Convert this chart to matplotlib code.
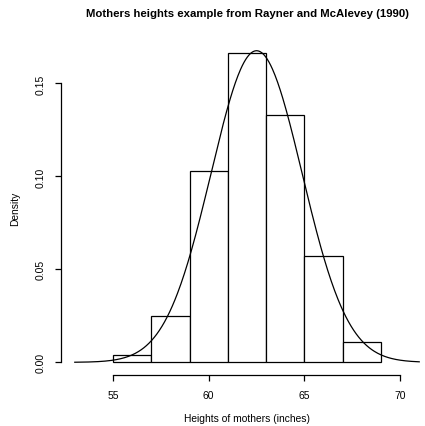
import matplotlib
matplotlib.use('Agg')
import numpy as np
import matplotlib.pyplot as plt

plt.rcParams['font.family'] = ['Liberation Sans', 'DejaVu Sans']

# histogram of mothers' heights (density scale)
bin_edges = [55, 57, 59, 61, 63, 65, 67, 69]
densities = [0.0039, 0.0251, 0.1031, 0.1662, 0.1329, 0.0571, 0.0109]

# fitted normal curve
curve_mean = 62.5
curve_sd = 2.38
curve_from, curve_to = 53, 71

x_ticks = [55, 60, 65, 70]
y_ticks = [0.00, 0.05, 0.10, 0.15]
y_tick_labels = ['0.00', '0.05', '0.10', '0.15']

fig = plt.figure(figsize=(4.25, 4.27), dpi=100)
ax = fig.add_axes([61 / 425, 51.3 / 427, 372 / 425, 333.7 / 427])

lefts = np.array(bin_edges[:-1])
widths = np.diff(bin_edges)
ax.bar(lefts, densities, width=widths, align='edge', facecolor='white',
       edgecolor='black', linewidth=0.9)

xs = np.linspace(curve_from, curve_to, 400)
ys = np.exp(-0.5 * ((xs - curve_mean) / curve_sd) ** 2) / (curve_sd * np.sqrt(2 * np.pi))
ax.plot(xs, ys, color='black', linewidth=0.9)

pad_x = 0.04 * (curve_to - curve_from)
ax.set_xlim(curve_from - pad_x, curve_to + pad_x)
ymax = max(densities)
ax.set_ylim(-0.04 * ymax, 1.04 * ymax)

for s in ['top', 'right']:
    ax.spines[s].set_visible(False)
ax.spines['bottom'].set_bounds(x_ticks[0], x_ticks[-1])
ax.spines['left'].set_bounds(y_ticks[0], y_ticks[-1])
for s in ['bottom', 'left']:
    ax.spines[s].set_linewidth(0.9)

ax.set_xticks(x_ticks)
ax.set_yticks(y_ticks)
ax.set_yticklabels(y_tick_labels, rotation=90, va='center')
ax.tick_params(length=4.5, width=0.9, labelsize=7.5, pad=6.5)

ax.set_xlabel('Heights of mothers (inches)', fontsize=7.4, labelpad=9.5)
ax.set_ylabel('Density', fontsize=7.4, labelpad=11)
fig.suptitle('Mothers heights example from Rayner and McAlevey (1990)',
             x=(61 + 433) / 2 / 425, y=0.978, fontsize=8.2, fontweight='bold')

fig.savefig('out.png', dpi=100)
